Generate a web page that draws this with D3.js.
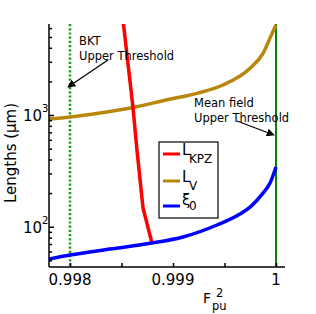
<!DOCTYPE html>
<html>
<head>
<meta charset="utf-8">
<script src="https://cdn.jsdelivr.net/npm/d3@7"></script>
<style>
  html, body { margin: 0; padding: 0; background: #fff; }
  text { font-family: "DejaVu Sans", sans-serif; fill: #000; }
</style>
</head>
<body>
<div id="graph"></div>
<script>
// F_pu^2 values and lengths (um)
const xiF = [0.997796, 0.998, 0.998388, 0.998796, 0.999097, 0.999427, 0.999650, 0.999748, 0.999874, 0.999942, 1.0]
const xiL = [51.4, 55.8, 63.1, 71.4, 80.9, 103.6, 130, 150, 200, 246, 343]

const lvF = [0.997796, 0.998, 0.998291, 0.998612, 0.998932, 0.999262, 0.999485, 0.999748, 0.999874, 0.999955, 1.0]
const lvL = [921, 960, 1042, 1167, 1362, 1589, 1857, 2618, 3566, 5200, 6398]

const kpzF = [0.998505, 0.998612, 0.998650, 0.998709, 0.998796]
const kpzL = [8500, 1155, 486, 147, 71.4]

const thresholds = [0.998, 1.0]
const xTicks = [0.998, 0.9985, 0.999, 0.9995, 1.0]
const xTickLabels = ['0.998', '', '0.999', '', '1']
const yMajor = [100, 1000]
const yMajorExp = ['2', '3']

const W = 316
const H = 314
const plot = { left: 49, right: 285, top: 24, bottom: 267 }

const svg = d3.select('#graph')
  .append('svg')
  .attr('width', W)
  .attr('height', H)

const x = d3.scaleLinear([0.997796, 1.0000874], [plot.left, plot.right])
const y = d3.scaleLog([43.6, 6530], [plot.bottom, plot.top])

svg.append('defs').append('clipPath')
  .attr('id', 'clip')
  .append('rect')
  .attr('x', plot.left)
  .attr('y', plot.top)
  .attr('width', plot.right - plot.left)
  .attr('height', plot.bottom - plot.top)

const zip = (fs, ls) => fs.map((f, i) => ({ f: f, l: ls[i] }))

const marks = svg.append('g').attr('clip-path', 'url(#clip)')

// threshold lines: BKT (dotted) and mean field (solid)
marks.append('line')
  .attr('x1', x(thresholds[0])).attr('x2', x(thresholds[0]))
  .attr('y1', plot.top).attr('y2', plot.bottom)
  .attr('stroke', '#1a9c1a')
  .attr('stroke-width', 2.5)
  .attr('stroke-dasharray', '2.2,2')

marks.append('line')
  .attr('x1', x(thresholds[1])).attr('x2', x(thresholds[1]))
  .attr('y1', plot.top).attr('y2', plot.bottom)
  .attr('stroke', '#0a800a')
  .attr('stroke-width', 2)

const series = [
  { data: zip(lvF, lvL), color: '#b8860b', curve: d3.curveMonotoneX },
  { data: zip(kpzF, kpzL), color: '#ff0000', curve: d3.curveLinear },
  { data: zip(xiF, xiL), color: '#0000ff', curve: d3.curveMonotoneX }
]

series.forEach(s => {
  marks.append('path')
    .datum(s.data)
    .attr('fill', 'none')
    .attr('stroke', s.color)
    .attr('stroke-width', 3.5)
    .attr('stroke-linejoin', 'round')
    .attr('d', d3.line().curve(s.curve).x(d => x(d.f)).y(d => y(d.l)))
})

// axes, ticks pointing inside
const yMinor = []
for (let e = 1; e <= 3; e++) {
  for (let m = 2; m <= 9; m++) {
    const v = m * Math.pow(10, e)
    if (v >= 43.6 && v <= 6530) yMinor.push(v)
  }
}

const yAxis = svg.append('g')
  .attr('transform', `translate(${plot.left},0)`)
  .call(d3.axisLeft(y).tickValues(yMinor).tickSize(-3).tickSizeOuter(0).tickFormat(''))
svg.append('g')
  .attr('transform', `translate(${plot.left},0)`)
  .call(d3.axisLeft(y).tickValues(yMajor).tickSize(-5).tickSizeOuter(0).tickFormat(''))
  .select('.domain').remove()

yAxis.select('.domain')
  .attr('d', `M0,${plot.top}V${plot.bottom}`)

const xAxis = svg.append('g')
  .attr('transform', `translate(0,${plot.bottom})`)
  .call(d3.axisBottom(x).tickValues(xTicks).tickSize(-4).tickSizeOuter(0).tickFormat(''))

xAxis.select('.domain')
  .attr('d', `M${plot.left},0H${plot.right}`)

svg.selectAll('.domain, .tick line')
  .attr('stroke', '#000')
  .attr('stroke-width', 1.5)

xTicks.forEach((t, i) => {
  if (!xTickLabels[i]) return
  svg.append('text')
    .attr('x', x(t))
    .attr('y', 285)
    .attr('text-anchor', 'middle')
    .style('font-size', '15px')
    .text(xTickLabels[i])
})

yMajor.forEach((v, i) => {
  svg.append('text')
    .attr('x', 42)
    .attr('y', y(v) + 6)
    .style('font-size', '15px')
    .attr('text-anchor', 'end')
    .text('10')
  svg.append('text')
    .attr('x', 42)
    .attr('y', y(v) - 3)
    .style('font-size', '10px')
    .text(yMajorExp[i])
})

// axis titles
svg.append('text')
  .attr('transform', `translate(16,${153}) rotate(-90)`)
  .attr('text-anchor', 'middle')
  .style('font-size', '15px')
  .text('Lengths (μm)')

const xTitle = svg.append('text')
  .attr('x', 203)
  .attr('y', 303)
  .style('font-size', '14px')
xTitle.append('tspan').text('F')
xTitle.append('tspan').attr('x', 212).attr('y', 310).style('font-size', '11.5px').text('pu')
xTitle.append('tspan').attr('x', 216).attr('y', 297).style('font-size', '11.5px').text('2')

// legend
const legend = svg.append('g')
legend.append('rect')
  .attr('x', 159).attr('y', 142)
  .attr('width', 59).attr('height', 76)
  .attr('fill', '#fff')
  .attr('stroke', '#000')
  .attr('stroke-width', 1.2)

const legendItems = [
  { main: 'L', sub: 'KPZ', color: '#ff0000', ly: 154, by: 155, sy: 163 },
  { main: 'L', sub: 'V', color: '#b8860b', ly: 181, by: 182, sy: 190 },
  { main: 'ξ', sub: '0', color: '#0000ff', ly: 206, by: 205, sy: 210 }
]

legendItems.forEach(d => {
  legend.append('line')
    .attr('x1', 163).attr('x2', 180)
    .attr('y1', d.ly).attr('y2', d.ly)
    .attr('stroke', d.color)
    .attr('stroke-width', 3)
  const t = legend.append('text').attr('x', 182).attr('y', d.by).style('font-size', '15px')
  t.append('tspan').text(d.main)
  t.append('tspan').attr('x', 189).attr('y', d.sy).style('font-size', '12px').text(d.sub)
})

// annotations with arrows
svg.append('defs').append('marker')
  .attr('id', 'arrow')
  .attr('viewBox', '0 0 10 10')
  .attr('refX', 9).attr('refY', 5)
  .attr('markerWidth', 8).attr('markerHeight', 8)
  .attr('markerUnits', 'userSpaceOnUse')
  .attr('orient', 'auto')
  .append('path')
  .attr('d', 'M0,0L10,5L0,10z')
  .attr('fill', '#000')

const notes = [
  { lines: ['BKT', 'Upper Threshold'], tx: 79, ty: 45, from: [108, 60], to: [68, 87] },
  { lines: ['Mean field', 'Upper Threshold'], tx: 194, ty: 107, from: [237, 121], to: [274, 135] }
]

notes.forEach(n => {
  n.lines.forEach((s, i) => {
    svg.append('text')
      .attr('x', n.tx)
      .attr('y', n.ty + i * 14.5)
      .style('font-size', '11.5px')
      .text(s)
  })
  svg.append('line')
    .attr('x1', n.from[0]).attr('y1', n.from[1])
    .attr('x2', n.to[0]).attr('y2', n.to[1])
    .attr('stroke', '#000')
    .attr('stroke-width', 1.3)
    .attr('marker-end', 'url(#arrow)')
})
</script>
</body>
</html>
